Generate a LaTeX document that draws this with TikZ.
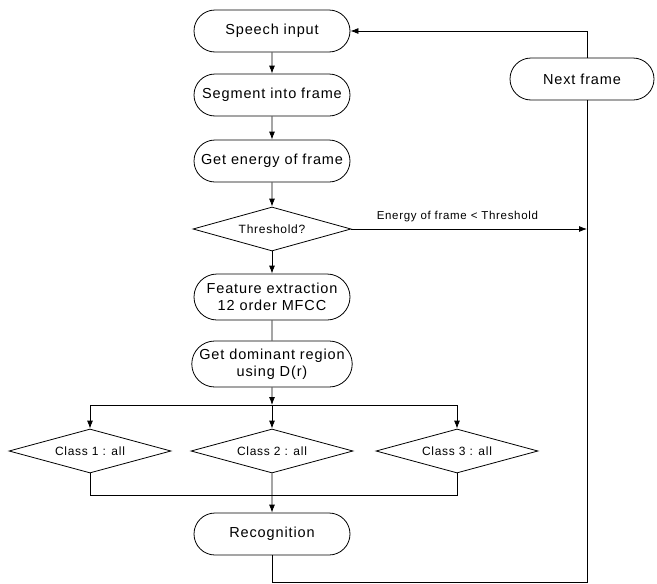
\documentclass[tikz,border=0pt]{standalone}
\usepackage{fontspec}
\setmainfont{Liberation Sans}[LetterSpace=6]
\usetikzlibrary{shapes.misc,shapes.geometric,arrows.meta}
\begin{document}
\begin{tikzpicture}[x=1pt,y=-1pt,
  line width=0.8pt,
  term/.style={draw,rounded rectangle,minimum width=160pt,minimum height=42pt,inner sep=2pt,font=\fontsize{14.5}{16.5}\selectfont,align=center},
  dec/.style={draw,diamond,aspect=3.6,minimum width=160pt,minimum height=44pt,inner sep=0pt,font=\fontsize{12}{14}\selectfont},
  arr/.style={-{Latex[length=8pt,width=6pt]}},
  lbl/.style={font=\fontsize{11.5}{13}\selectfont}]
\useasboundingbox (0,0) rectangle (657,584);
\node[term] (speech) at (272,31) {Speech input};
\node[term] (seg) at (272,95) {Segment into frame};
\node[term] (energy) at (272,161) {Get energy of frame};
\node[dec,minimum width=158pt] (thr) at (272,229) {Threshold?};
\node[term,minimum height=46pt] (feat) at (272,297) {Feature extraction\\12 order MFCC};
\node[term,minimum height=46pt] (dom) at (272,364) {Get dominant region\\using D(r)};
\node[dec,minimum width=162pt] (c1) at (90,451) {Class 1 : all};
\node[dec,minimum width=162pt] (c2) at (272,451) {Class 2 : all};
\node[dec,minimum width=162pt] (c3) at (457,451) {Class 3 : all};
\node[term] (rec) at (272,534) {Recognition};
\node[term,minimum width=148pt,minimum height=42pt] (nf) at (582,79) {Next frame};
\coordinate (jt) at (272,405);
\coordinate (jl) at (90,405);
\coordinate (jr) at (457,405);
\coordinate (bl) at (90,495);
\coordinate (bm) at (272,495);
\coordinate (br) at (457,495);
\coordinate (rb) at (272,582);
\coordinate (rr) at (587,582);
\coordinate (rt) at (587,229);
\coordinate (nfb) at (587,100);
\coordinate (nft) at (587,58);
\coordinate (tr) at (587,31);
\draw[arr] (speech) -- (seg);
\draw[arr] (seg) -- (energy);
\draw[arr] (energy) -- (thr);
\draw[arr] (thr) -- (feat);
\draw[arr] (thr.east) -- node[lbl,above=3pt,pos=0.45] {Energy of frame < Threshold} (rt);
\draw (feat) -- (dom);
\draw[arr] (dom) -- (jt);
\draw (jl) -- (jr);
\draw[arr] (jl) -- (c1);
\draw[arr] (jt) -- (c2);
\draw[arr] (jr) -- (c3);
\draw (c1.south) -- (bl) -- (br) -- (c3.south);
\draw[arr] (c2.south) -- (rec);
\draw (rec.south) -- (rb) -- (rr) -- (nfb);
\draw (nft) -- (tr);
\draw[arr] (tr) -- (speech.east);
\end{tikzpicture}
\end{document}
